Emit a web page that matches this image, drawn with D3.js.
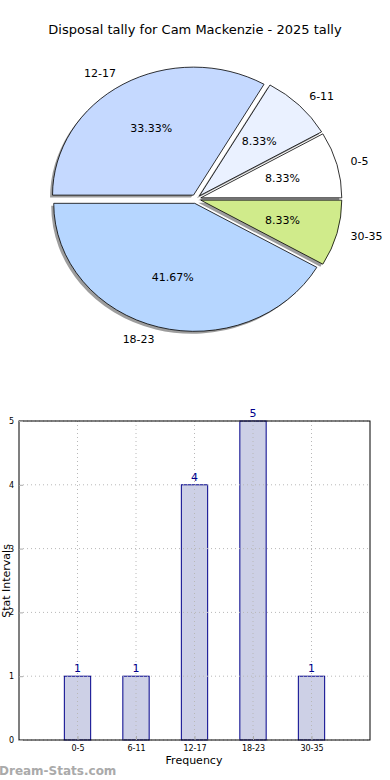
<!DOCTYPE html>
<html>
<head>
<meta charset="utf-8">
<script src="https://cdn.jsdelivr.net/npm/d3@7"></script>
<style>
  html, body { margin: 0; padding: 0; background: #fff; }
  svg { display: block; font-family: "DejaVu Sans", sans-serif; }
</style>
</head>
<body>
<svg id="chart" width="390" height="780"></svg>
<script>
// ---- data ----
const categories = ["0-5", "6-11", "12-17", "18-23", "30-35"];
const counts = [1, 1, 4, 5, 1];
const pieColors = ["#ffffff", "#eaf1ff", "#c5d9ff", "#b6d6ff", "#d0eb8b"];
const yTicks = [0, 1, 2, 3, 4, 5];
const title = "Disposal tally for Cam Mackenzie - 2025 tally";

const svg = d3.select("#chart");

// ---- title ----
svg.append("text")
  .attr("x", 195).attr("y", 34)
  .attr("text-anchor", "middle")
  .attr("font-size", 13)
  .attr("fill", "#000")
  .text(title);

// ---- pie ----
const cx = 196, cy = 199, rx = 141, ry = 128;
const explode = 0.035;
const total = d3.sum(counts);
// matplotlib starts at 3 o'clock going counterclockwise
const pie = d3.pie().sort(null).value(d => d)
  .startAngle(Math.PI / 2).endAngle(Math.PI / 2 - 2 * Math.PI);
const arcs = pie(counts);
const arcGen = d3.arc().innerRadius(0).outerRadius(1);

const pieG = svg.append("g").attr("transform", `translate(${cx},${cy})`);

function offsetFor(d, f) {
  const a = (d.startAngle + d.endAngle) / 2;
  return [Math.sin(a) * rx * f, -Math.cos(a) * ry * f];
}

// shadows
arcs.forEach((d, i) => {
  const [ox, oy] = offsetFor(d, explode);
  pieG.append("path")
    .attr("d", arcGen(d))
    .attr("transform", `translate(${ox - 2.5},${oy + 2.5}) scale(${rx},${ry})`)
    .attr("fill", "#8c8c8c")
    .attr("opacity", 0.85)
    .attr("stroke", "none");
});
// wedges
arcs.forEach((d, i) => {
  const [ox, oy] = offsetFor(d, explode);
  pieG.append("path")
    .attr("d", arcGen(d))
    .attr("transform", `translate(${ox},${oy}) scale(${rx},${ry})`)
    .attr("fill", pieColors[i])
    .attr("stroke", "#000")
    .attr("stroke-width", 0.8)
    .attr("vector-effect", "non-scaling-stroke");
});
// labels
arcs.forEach((d, i) => {
  const a = (d.startAngle + d.endAngle) / 2;
  const [ox, oy] = offsetFor(d, explode);
  const lx = Math.sin(a) * rx * 1.1 + ox;
  const ly = -Math.cos(a) * ry * 1.1 + oy;
  pieG.append("text")
    .attr("x", lx).attr("y", ly)
    .attr("dy", "0.35em")
    .attr("text-anchor", Math.sin(a) > 0 ? "start" : "end")
    .attr("font-size", 11)
    .text(categories[i]);
  const px = Math.sin(a) * rx * 0.6 + ox;
  const py = -Math.cos(a) * ry * 0.6 + oy;
  pieG.append("text")
    .attr("x", px).attr("y", py)
    .attr("dy", "0.35em")
    .attr("text-anchor", "middle")
    .attr("font-size", 11)
    .text((counts[i] / total * 100).toFixed(2) + "%");
});

// ---- bar chart ----
const pLeft = 19, pRight = 370, pTop = 421, pBottom = 740;
const x = d3.scaleLinear().domain([-1, categories.length]).range([pLeft, pRight]);
const y = d3.scaleLinear().domain([0, 5]).range([pBottom, pTop]);
const barW = x(0.45) - x(0);

const bar = svg.append("g");

// bars
bar.selectAll("rect.bar").data(counts).enter().append("rect")
  .attr("class", "bar")
  .attr("x", (d, i) => x(i) - barW / 2)
  .attr("y", d => y(d))
  .attr("width", barW)
  .attr("height", d => y(0) - y(d))
  .attr("fill", "#cdd0e6")
  .attr("stroke", "#00008b")
  .attr("stroke-width", 1);

// grid
const grid = bar.append("g").attr("stroke", "#b8b8b8").attr("stroke-width", 1)
  .attr("stroke-dasharray", "1,3");
categories.forEach((c, i) => {
  grid.append("line").attr("x1", x(i)).attr("x2", x(i)).attr("y1", pTop).attr("y2", pBottom);
});
yTicks.forEach(t => {
  grid.append("line").attr("x1", pLeft).attr("x2", pRight).attr("y1", y(t)).attr("y2", y(t));
});

// frame
bar.append("rect")
  .attr("x", pLeft).attr("y", pTop)
  .attr("width", pRight - pLeft).attr("height", pBottom - pTop)
  .attr("fill", "none").attr("stroke", "#000").attr("stroke-width", 1);

// axes
const yAxis = d3.axisLeft(y).tickValues(yTicks).tickSize(-4).tickPadding(5)
  .tickFormat(d3.format("d"));
const yg = bar.append("g").attr("transform", `translate(${pLeft},0)`).call(yAxis);
yg.select(".domain").remove();
yg.selectAll("line").attr("stroke", "#aaa");
yg.selectAll("text").attr("font-size", 8).attr("font-family", "DejaVu Sans, sans-serif").attr("fill", "#000");

const xAxis = d3.axisBottom(x).tickValues(d3.range(categories.length)).tickSize(-4).tickPadding(5)
  .tickFormat(i => categories[i]);
const xg = bar.append("g").attr("transform", `translate(0,${pBottom})`).call(xAxis);
xg.select(".domain").remove();
xg.selectAll("line").attr("stroke", "#aaa");
xg.selectAll("text").attr("font-size", 8).attr("font-family", "DejaVu Sans, sans-serif").attr("fill", "#000");

// value labels
bar.selectAll("text.val").data(counts).enter().append("text")
  .attr("class", "val")
  .attr("x", (d, i) => x(i))
  .attr("y", d => y(d) - 4)
  .attr("text-anchor", "middle")
  .attr("font-size", 11)
  .attr("fill", "#00008b")
  .text(d => d);

// axis labels
svg.append("text")
  .attr("x", 194).attr("y", 764)
  .attr("text-anchor", "middle")
  .attr("font-size", 11)
  .text("Frequency");
svg.append("text")
  .attr("transform", `translate(10,581) rotate(-90)`)
  .attr("text-anchor", "middle")
  .attr("font-size", 11)
  .text("Stat Intervals");

// watermark
svg.append("text")
  .attr("x", -1).attr("y", 775)
  .attr("font-size", 12)
  .attr("font-weight", "bold")
  .attr("fill", "#aaa")
  .text("Dream-Stats.com");
</script>
</body>
</html>
